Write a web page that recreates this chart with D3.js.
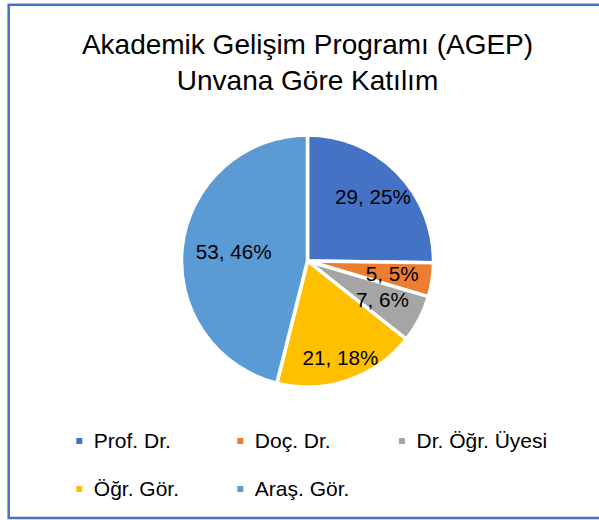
<!DOCTYPE html>
<html>
<head>
<meta charset="utf-8">
<script src="https://cdn.jsdelivr.net/npm/d3@7"></script>
<style>
  body { margin: 0; background: #fff; }
  text { font-family: "Liberation Sans", Arial, sans-serif; fill: #000; }
</style>
</head>
<body>
<script>
var svgWidth = 599;
var svgHeight = 520;

// DATA
var titleLines = ["Akademik Gelişim Programı (AGEP)", "Unvana Göre Katılım"];
var categories = ["Prof. Dr.", "Doç. Dr.", "Dr. Öğr. Üyesi", "Öğr. Gör.", "Araş. Gör."];
var counts = [29, 5, 7, 21, 53];
var percentLabels = ["25%", "5%", "6%", "18%", "46%"];
var colors = ["#4472C4", "#ED7D31", "#A5A5A5", "#FFC000", "#5B9BD5"];

// layout: label distance from centre as share of radius (Excel best fit)
var labelRadius = [0.73, 0.68, 0.67, 0.81, 0.59];

var cx = 307.5, cy = 261, radius = 126;

var svg = d3.select("body")
  .append("svg")
  .attr("width", svgWidth)
  .attr("height", svgHeight);

// chart border (right edge is cut off in the original)
svg.append("rect")
  .attr("x", 8.7)
  .attr("y", 4.8)
  .attr("width", 700)
  .attr("height", 513.2)
  .attr("fill", "none")
  .attr("stroke", "#4472C4")
  .attr("stroke-width", 2.5);

// TITLE
svg.selectAll(".title")
  .data(titleLines)
  .enter()
  .append("text")
  .attr("class", "title")
  .attr("x", cx)
  .attr("y", (d, i) => 54.3 + i * 36)
  .attr("text-anchor", "middle")
  .style("font-size", "28px")
  .text(d => d);

// PIE
var pie = d3.pie().sort(null).value(d => d.value);
var arc = d3.arc().innerRadius(0).outerRadius(radius);

var pieData = pie(categories.map((c, i) => ({ name: c, value: counts[i], pct: percentLabels[i], idx: i })));

var pieGroup = svg.append("g")
  .attr("transform", `translate(${cx}, ${cy})`);

pieGroup.selectAll("path")
  .data(pieData)
  .enter()
  .append("path")
  .attr("d", arc)
  .attr("fill", d => colors[d.data.idx])
  .attr("stroke", "#fff")
  .attr("stroke-width", 3.5)
  .attr("stroke-linejoin", "miter");

// DATA LABELS
pieGroup.selectAll(".lbl")
  .data(pieData)
  .enter()
  .append("text")
  .attr("class", "lbl")
  .attr("transform", function(d) {
    var a = (d.startAngle + d.endAngle) / 2;
    var r = radius * labelRadius[d.data.idx];
    return `translate(${Math.sin(a) * r}, ${-Math.cos(a) * r})`;
  })
  .attr("text-anchor", "middle")
  .attr("dy", "0.36em")
  .style("font-size", "20.7px")
  .text(d => d.data.value + ", " + d.data.pct);

// LEGEND
var colX = [76.3, 237.3, 399];
var rowY = [447.8, 495.8];

var legend = svg.selectAll(".legend")
  .data(categories)
  .enter()
  .append("g")
  .attr("class", "legend")
  .attr("transform", (d, i) => `translate(${colX[i % 3]}, ${rowY[Math.floor(i / 3)]})`);

legend.append("rect")
  .attr("x", 0)
  .attr("y", -9.8)
  .attr("width", 6)
  .attr("height", 6)
  .attr("fill", (d, i) => colors[i]);

legend.append("text")
  .attr("x", 17.5)
  .attr("y", 0)
  .style("font-size", "21px")
  .text(d => d);
</script>
</body>
</html>
